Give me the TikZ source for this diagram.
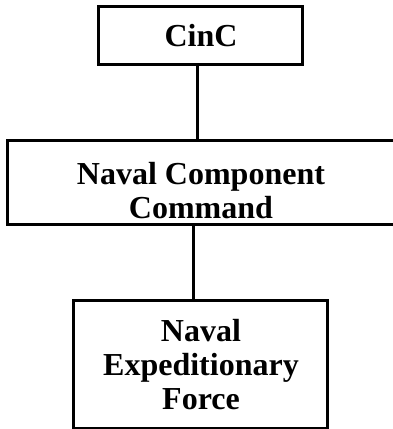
\documentclass[tikz,border=0pt]{standalone}
\usepackage{fontspec}
\setmainfont{Liberation Serif}
\usetikzlibrary{positioning, matrix, calc}
\tikzset{
  x=1pt, y=1pt,
  unit/.style={draw, line width=3pt, align=center, inner sep=0pt, font=\fontsize{32}{34}\selectfont\bfseries},
  link/.style={-, line width=3pt}
}

\begin{document}
\begin{tikzpicture}
    \useasboundingbox (0,0) rectangle (392,-429);
    \matrix[row sep=73pt, inner sep=0pt, anchor=north] (chart) at (201,-4.5)
    {
        \node[unit, minimum width=204pt, minimum height=58pt] (cinc) {CinC}; \\
        \node[unit, minimum width=387pt, minimum height=84pt, text height=72pt] (ncc) {Naval Component\\Command}; \\
        \node[unit, minimum width=254pt, minimum height=128pt] (nef) {Naval\\Expeditionary\\Force}; \\
    };

    \draw[link] ($(cinc.south)+(-4,0)$) -- ($(ncc.north)+(-4,0)$);
    \draw[link] ($(ncc.south)+(-8,0)$) -- ($(nef.north)+(-8,0)$);
  \end{tikzpicture}
\end{document}
